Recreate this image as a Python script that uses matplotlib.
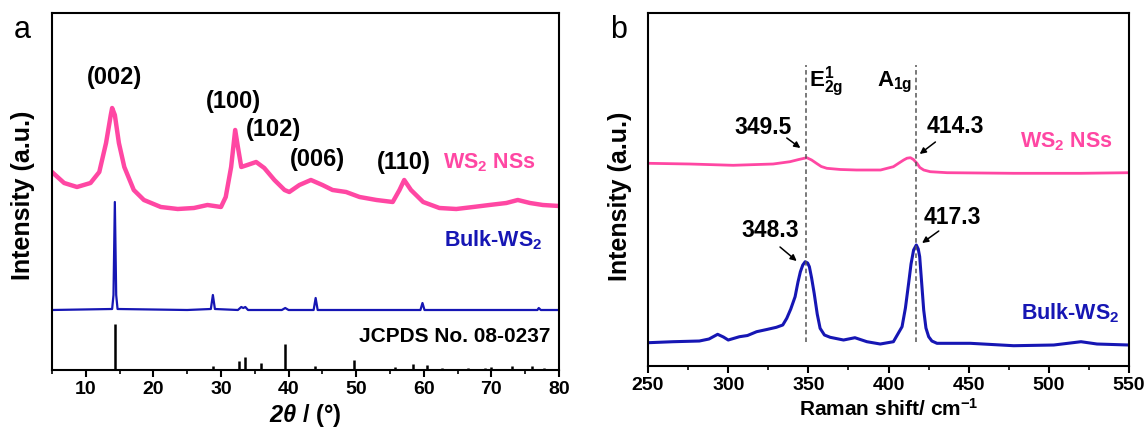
import matplotlib
matplotlib.use("Agg")
import matplotlib.pyplot as plt

plt.rcParams['font.family'] = ['Liberation Sans', 'DejaVu Sans']
plt.rcParams['font.weight'] = 'bold'
plt.rcParams['mathtext.fontset'] = 'custom'
plt.rcParams['mathtext.rm'] = 'Liberation Sans:bold'
plt.rcParams['mathtext.bf'] = 'Liberation Sans:bold'
plt.rcParams['mathtext.it'] = 'Liberation Sans:italic:bold'
plt.rcParams['mathtext.bfit'] = 'Liberation Sans:italic:bold'

# ---------------- data: panel a (XRD) ----------------
ns_x = [5.0, 6.8, 8.7, 10.7, 12.0, 13.0, 13.7, 13.9, 14.3, 14.9, 15.7, 17.1, 18.6, 21.1, 23.6,
        26.0, 28.0, 30.0, 30.7, 31.5, 32.1, 32.5, 33.0, 33.9, 35.2, 36.4, 37.9, 39.4, 40.1, 41.6,
        43.3, 45.0, 46.5, 48.5, 50.5, 53.0, 55.4, 56.4, 57.1, 58.1, 59.9, 62.3, 64.8, 67.3, 69.7,
        72.2, 73.9, 75.7, 77.6, 80.0]
ns_y = [198, 187, 183, 187, 198, 227, 255, 262, 255, 227, 203, 180, 170, 163, 161,
        162, 165, 163, 173, 203, 240, 223, 203, 205, 208, 202, 190, 180, 178, 185,
        190, 185, 180, 178, 173, 170, 168, 180, 190, 180, 168, 162, 161, 163, 165,
        167, 170, 167, 165, 164]

bulk_x = [5, 13.9, 14.1, 14.3, 14.5, 14.7, 25, 28.5, 28.8, 29.1, 32.5, 33.0, 33.3, 33.6, 34.0,
          39.0, 39.5, 40.0, 43.7, 44.0, 44.3, 59.5, 59.8, 60.1, 76.8, 77.0, 77.3, 80]
bulk_y = [60, 61, 75, 168, 75, 61, 60, 61, 75, 61, 60, 63, 62, 63, 60,
          60, 62, 60, 60, 72, 60, 60, 67, 60, 60, 62, 60, 60]

jcpds_pos = [14.3, 28.8, 32.7, 33.6, 35.9, 39.5, 43.9, 49.7, 55.8, 58.4, 60.5, 62.7, 66.5,
             69.0, 69.9, 73.0, 76.0, 77.8]
jcpds_int = [46, 4, 9, 13, 7, 26, 4, 10, 3, 6, 5, 2, 2, 2, 3, 4, 4, 2]

hkl_labels = ['(002)', '(100)', '(102)', '(006)', '(110)']
hkl_x = [14.2, 31.8, 37.7, 44.3, 57.1]
hkl_y = [292, 268, 240, 210, 207]

xrd_ticks = [10, 20, 30, 40, 50, 60, 70, 80]

# ---------------- data: panel b (Raman) ----------------
rn_x = [250, 276, 303, 328, 338.5, 344, 349, 352, 355, 358, 361.5, 370, 380, 395, 403, 406.5,
        409.4, 411.5, 413.6, 415.5, 417.7, 419.5, 421.9, 426, 436.5, 478, 520, 550]
rn_y = [202.7, 202, 200.7, 202, 204.3, 206.5, 208.3, 206, 202.7, 199.5, 197.7, 196.5, 196, 196,
        199.3, 203, 206, 207.8, 208.3, 206.5, 202.7, 198.5, 196, 194.3, 193.3, 192.7, 192.7, 193.3]

rb_x = [250, 265.6, 282, 288, 293.4, 297, 300, 307, 312, 317.7, 324, 330, 334, 336.5, 339,
        341.7, 343.5, 345, 346.5, 348, 349.5, 350.6, 352, 353.6, 355.5, 357.3, 360, 363.6,
        371.9, 379, 386.5, 394.8, 403, 408.4, 410.5, 412.5, 414, 415.6, 417.3, 418.5, 419.4,
        420.5, 421.9, 423.3, 425, 427, 430.2, 451, 478, 503, 520, 530, 550]
rb_y = [23.3, 24.3, 25, 27, 31.7, 29, 26, 29.3, 30.5, 34.3, 36.5, 38.7, 41, 47.7, 57,
        69.3, 84, 94.3, 101, 104.3, 103, 99.3, 88, 72.7, 52, 37.7, 31, 28.7,
        26, 28.3, 24.3, 22, 24.3, 39.3, 58, 82.7, 102, 116, 121, 117, 109.3,
        86, 56, 38, 29.3, 25, 22.7, 22.7, 20.3, 21, 24.3, 22, 21]

raman_ticks = [250, 300, 350, 400, 450, 500, 550]
mode_pos = [348.3, 417.3]
peak_labels = ['349.5', '414.3', '348.3', '417.3']
peak_text_xy = [(321.5, 238), (441.7, 239), (326, 136), (439.6, 149)]
peak_arrow_from = [(336.5, 228), (429.2, 224), (332.3, 119), (431.3, 135)]
peak_arrow_to = [(345.0, 218), (419.4, 212), (342.7, 105), (420.9, 123)]

PINK = '#FF47A3'
BLUE = '#1616B4'

fig = plt.figure(figsize=(11.47, 4.33), dpi=100)
axa = fig.add_axes([0.0453, 0.1455, 0.4421, 0.8245])
axb = fig.add_axes([0.565, 0.1547, 0.4194, 0.8153])

for ax in (axa, axb):
    for s in ax.spines.values():
        s.set_linewidth(1.5)
    ax.tick_params(axis='x', which='major', direction='out', length=5, width=1.5, pad=3)
    ax.tick_params(axis='x', which='minor', direction='out', length=3, width=1.2)
    ax.tick_params(axis='y', left=False, labelleft=False)

# ---- panel a ----
axa.plot(ns_x, ns_y, color=PINK, lw=3.2, solid_joinstyle='round')
axa.plot(bulk_x, bulk_y, color=BLUE, lw=1.6)
axa.vlines(jcpds_pos, 0, jcpds_int, color='black', lw=1.8)
axa.set_xlim(5, 80)
axa.set_ylim(0, 357)
axa.set_xticks(xrd_ticks, labels=[str(v) for v in xrd_ticks], fontsize=14, fontweight='bold')
axa.set_xticks(range(5, 81, 5), minor=True)
for t, x, y in zip(hkl_labels, hkl_x, hkl_y):
    axa.text(x, y, t, ha='center', va='center', fontsize=17, fontweight='bold')
axa.text(69.7, 207, r'WS$_{\mathbf{2}}$ NSs', color=PINK, ha='center', va='center',
         fontsize=15.5, fontweight='bold')
axa.text(70.2, 130, r'Bulk-WS$_{\mathbf{2}}$', color=BLUE, ha='center', va='center',
         fontsize=15.5, fontweight='bold')
axa.text(64.6, 33, 'JCPDS No. 08-0237', ha='center', va='center',
         fontsize=15, fontweight='bold')
axa.set_xlabel(r'$\mathbfit{2\theta}$ / (°)', fontsize=17, fontweight='bold', labelpad=3)
axa.set_ylabel('Intensity (a.u.)', fontsize=18, fontweight='bold')
axa.yaxis.set_label_coords(-0.034, 0.49)

# ---- panel b ----
axb.plot(rn_x, rn_y, color=PINK, lw=2.0)
axb.plot(rb_x, rb_y, color=BLUE, lw=2.2)
axb.vlines(mode_pos, 24, 301, color='#555555', lw=1.1, linestyles=(0, (3, 2)))
axb.set_xlim(250, 550)
axb.set_ylim(0, 353)
axb.set_xticks(raman_ticks, labels=[str(v) for v in raman_ticks], fontsize=14, fontweight='bold')
axb.set_xticks(range(250, 551, 25), minor=True)
axb.text(350.5, 284, r'E$_{\mathbf{2g}}^{\mathbf{1}}$', ha='left', va='center', fontsize=16,
         fontweight='bold')
axb.text(393.0, 284, r'A$_{\mathbf{1g}}$', ha='left', va='center', fontsize=16, fontweight='bold')
for t, xy, a0, a1 in zip(peak_labels, peak_text_xy, peak_arrow_from, peak_arrow_to):
    axb.text(xy[0], xy[1], t, ha='center', va='center', fontsize=16.5, fontweight='bold')
    axb.annotate('', xy=a1, xytext=a0,
                 arrowprops=dict(arrowstyle='-|>', color='black', lw=1.1,
                                 mutation_scale=9, shrinkA=0, shrinkB=0))
axb.text(511, 224, r'WS$_{\mathbf{2}}$ NSs', color=PINK, ha='center', va='center',
         fontsize=15.5, fontweight='bold')
axb.text(513, 53, r'Bulk-WS$_{\mathbf{2}}$', color=BLUE, ha='center', va='center',
         fontsize=15.5, fontweight='bold')
axb.set_xlabel(r'Raman shift/ cm$^{\mathbf{-1}}$', fontsize=15, fontweight='bold', labelpad=3)
axb.set_ylabel('Intensity (a.u.)', fontsize=18, fontweight='bold')
axb.yaxis.set_label_coords(-0.034, 0.48)

fig.text(0.019, 0.93, 'a', fontsize=22, fontweight='normal', ha='center', va='center')
fig.text(0.539, 0.93, 'b', fontsize=22, fontweight='normal', ha='center', va='center')

fig.savefig('out.png', dpi=100)
